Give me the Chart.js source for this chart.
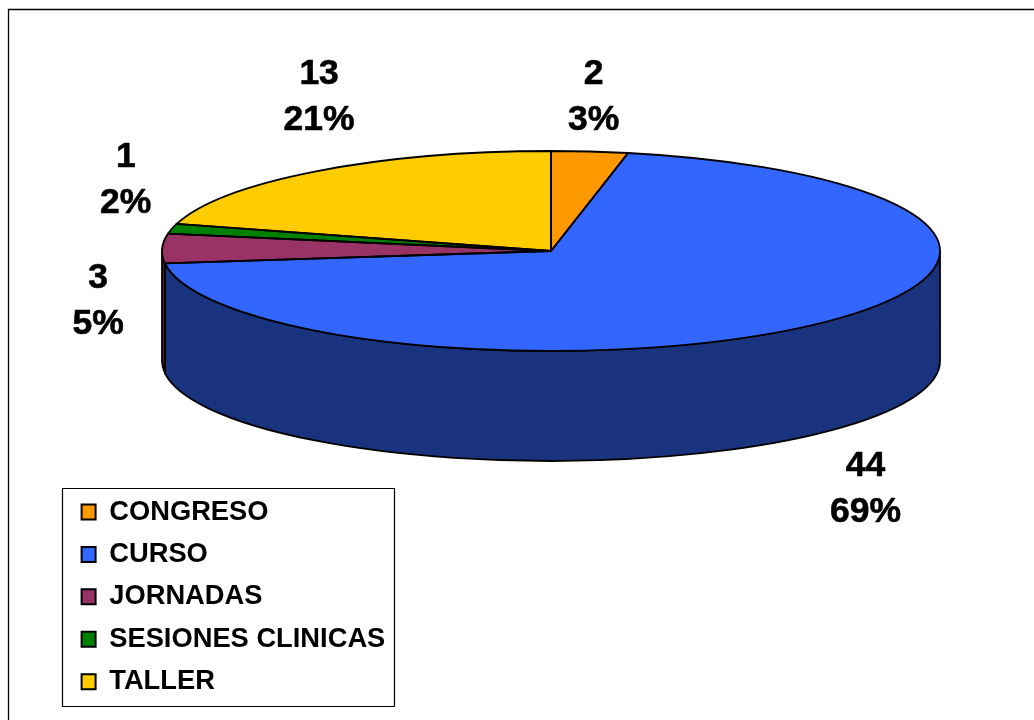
<!DOCTYPE html>
<html>
<head>
<meta charset="utf-8">
<style>html,body{margin:0;padding:0;background:#fff;overflow:hidden}canvas{display:block}</style>
<script src="https://cdn.jsdelivr.net/npm/chart.js@4"></script>
</head>
<body>
<canvas id="c" width="1034" height="720"></canvas>
<script>
const categories = ['CONGRESO', 'CURSO', 'JORNADAS', 'SESIONES CLINICAS', 'TALLER'];
const counts = [2, 44, 3, 1, 13];
const percentLabels = ['3%', '69%', '5%', '2%', '21%'];
const topColors = ['#FF9900', '#3366FF', '#993366', '#008000', '#FFCC00'];
const sideColors = ['#804D00', '#1A337F', '#4D1933', '#004000', '#806600'];

const ELLIPSE = { cx: 551, cy: 251, rx: 389, ry: 100, depth: 110 };
const LABEL_OFFSETS = [[4, -54], [50, 165], [-64, 53], [-46, -49], [3, -74]];
const LEGEND_FRAME = { x: 62.5, y: 488.5, w: 332, h: 218 };
const FONT = '"Liberation Sans", Arial, sans-serif';

const pie3d = {
  id: 'pie3d',
  beforeDraw(chart) {
    const c = chart.ctx;
    c.save();
    c.fillStyle = '#fff';
    c.fillRect(0, 0, chart.width, chart.height);
    c.strokeStyle = '#000';
    c.lineWidth = 1.3;
    c.beginPath();
    c.moveTo(8.5, chart.height + 2);
    c.lineTo(8.5, 9.5);
    c.lineTo(chart.width + 2, 9.5);
    c.stroke();
    c.restore();
  },
  beforeDatasetsDraw(chart) {
    const c = chart.ctx, E = ELLIPSE;
    const arcs = chart.getDatasetMeta(0).data;
    c.save();
    c.lineWidth = 1.8;
    c.strokeStyle = '#000';
    c.lineJoin = 'round';
    arcs.forEach((arc, i) => {
      const s = Math.max(arc.startAngle, 0), e = Math.min(arc.endAngle, Math.PI);
      if (e <= s) return;
      c.beginPath();
      c.ellipse(E.cx, E.cy, E.rx, E.ry, 0, s, e);
      c.ellipse(E.cx, E.cy + E.depth, E.rx, E.ry, 0, e, s, true);
      c.closePath();
      c.fillStyle = sideColors[i];
      c.fill();
      c.stroke();
    });
    c.restore();
    const a0 = arcs[0];
    c.save();
    c.translate(E.cx, E.cy);
    c.scale(E.rx / a0.outerRadius, E.ry / a0.outerRadius);
    c.translate(-a0.x, -a0.y);
  },
  afterDatasetsDraw(chart) {
    const c = chart.ctx, E = ELLIPSE;
    c.restore();
    const arcs = chart.getDatasetMeta(0).data;
    c.save();
    c.lineWidth = 1.8;
    c.strokeStyle = '#000';
    c.lineJoin = 'round';
    arcs.forEach(arc => {
      c.beginPath();
      c.moveTo(E.cx, E.cy);
      c.ellipse(E.cx, E.cy, E.rx, E.ry, 0, arc.startAngle, arc.endAngle);
      c.closePath();
      c.stroke();
    });
    c.fillStyle = '#000';
    c.font = 'bold 35.5px ' + FONT;
    c.textAlign = 'center';
    c.textBaseline = 'middle';
    c.lineWidth = 0.6;
    arcs.forEach((arc, i) => {
      const m = (arc.startAngle + arc.endAngle) / 2;
      const x = E.cx + E.rx * Math.cos(m) + LABEL_OFFSETS[i][0];
      const y = E.cy + E.ry * Math.sin(m) + LABEL_OFFSETS[i][1];
      c.fillText(String(counts[i]), x, y - 23);
      c.strokeText(String(counts[i]), x, y - 23);
      c.fillText(percentLabels[i], x, y + 23);
      c.strokeText(percentLabels[i], x, y + 23);
    });
    c.lineWidth = 1.2;
    c.strokeRect(LEGEND_FRAME.x, LEGEND_FRAME.y, LEGEND_FRAME.w, LEGEND_FRAME.h);
    c.restore();
  }
};

new Chart(document.getElementById('c'), {
  type: 'pie',
  plugins: [pie3d],
  data: {
    labels: categories,
    datasets: [{ data: counts, backgroundColor: topColors, borderWidth: 0 }]
  },
  options: {
    responsive: false,
    animation: false,
    layout: { padding: { left: 66.5, top: 483.3, bottom: 0, right: 0 } },
    plugins: {
      tooltip: { enabled: false },
      title: { display: false },
      legend: {
        display: true,
        position: 'left',
        align: 'start',
        labels: {
          boxWidth: 14,
          boxHeight: 15,
          padding: 15.1,
          color: '#000',
          font: { family: FONT, size: 27.3, weight: 'bold', lineHeight: 1.2 },
          generateLabels(chart) {
            return categories.map((t, i) => ({
              text: t, fillStyle: topColors[i], strokeStyle: '#000', lineWidth: 2, index: i, hidden: false
            }));
          }
        }
      }
    }
  }
});
</script>
</body>
</html>
